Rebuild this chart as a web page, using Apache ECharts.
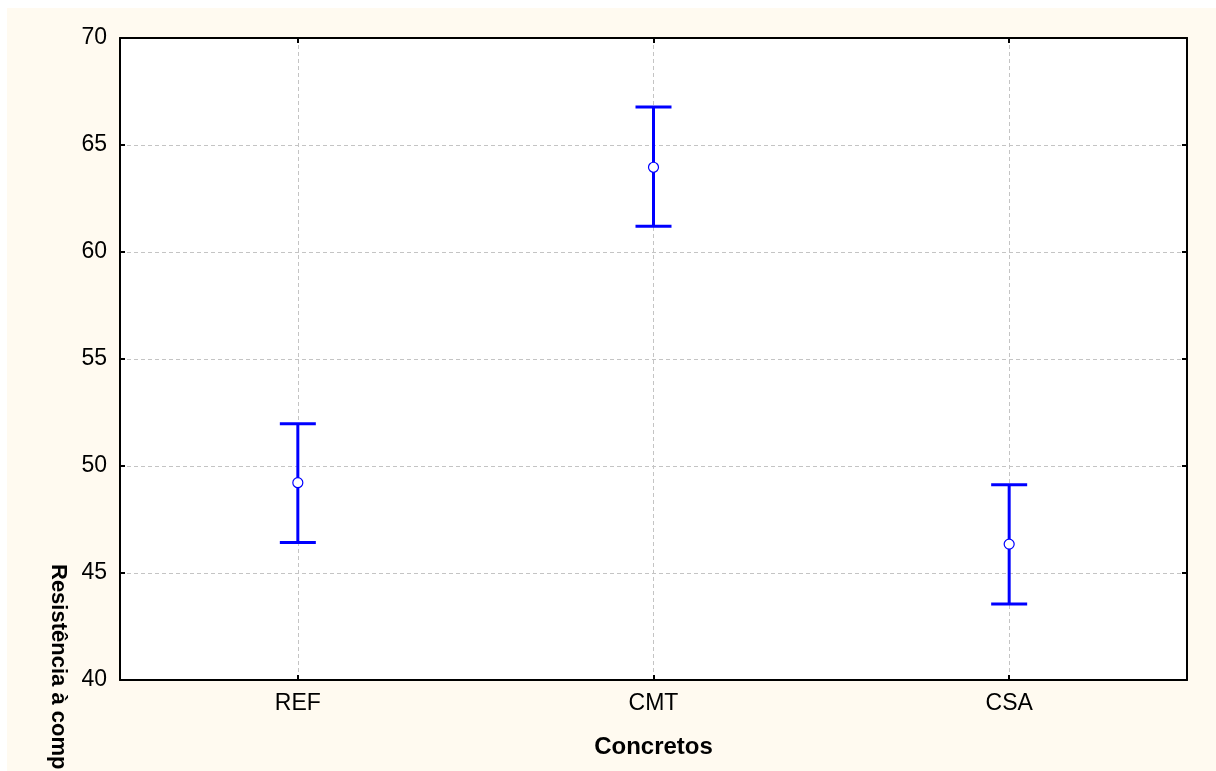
<!DOCTYPE html>
<html>
<head>
<meta charset="utf-8">
<script src="https://cdn.jsdelivr.net/npm/echarts@6/dist/echarts.min.js"></script>
<style>
  html, body { margin: 0; padding: 0; background: #ffffff; }
  #bg { position: absolute; left: 7px; top: 8px; width: 1209px; height: 763px; background: #FFFAF0; }
  #chart { position: absolute; left: 0; top: 0; width: 1216px; height: 771px; }
</style>
</head>
<body>
<div id="bg"></div>
<div id="chart"></div>
<script>
// Data
const categories = ['REF', 'CMT', 'CSA'];
const means = [49.22, 63.96, 46.35];
const lowerBounds = [46.43, 61.20, 43.55];
const upperBounds = [51.97, 66.78, 49.12];
const yTicks = { min: 40, max: 70, interval: 5 };
const xTitle = 'Concretos';
const yTitle = 'Resistência à compressão (MPa)';

const chart = echarts.init(document.getElementById('chart'), null, { renderer: 'canvas' });

const seriesData = categories.map((c, i) => [i, means[i], lowerBounds[i], upperBounds[i]]);

const gridLine = { show: true, lineStyle: { color: '#c4c4c4', width: 1, type: [4, 3] } };
const tickFont = { fontFamily: 'Liberation Sans, Arial, sans-serif', fontSize: 23, color: '#000' };

const option = {
  backgroundColor: 'transparent',
  animation: false,
  grid: {
    left: 120, top: 38, right: 29, bottom: 91,
    show: true, backgroundColor: '#ffffff', borderColor: '#000', borderWidth: 0
  },
  xAxis: [
    {
      type: 'category', data: categories, position: 'bottom', boundaryGap: true,
      axisLine: { show: true, lineStyle: { color: '#000', width: 2 } },
      axisTick: { show: true, inside: true, length: 5, alignWithLabel: true, lineStyle: { color: '#000', width: 2 } },
      axisLabel: Object.assign({ margin: 12 }, tickFont),
      splitLine: Object.assign({ alignWithLabel: true }, gridLine),
      name: xTitle, nameLocation: 'middle', nameGap: 55,
      nameTextStyle: { fontFamily: 'Liberation Sans, Arial, sans-serif', fontSize: 24, fontWeight: 'bold', color: '#000' }
    },
    {
      type: 'category', data: categories, position: 'top', boundaryGap: true,
      axisLine: { show: true, lineStyle: { color: '#000', width: 2 } },
      axisTick: { show: true, inside: true, length: 5, alignWithLabel: true, lineStyle: { color: '#000', width: 2 } },
      axisLabel: { show: false }, splitLine: { show: false }
    }
  ],
  yAxis: [
    {
      type: 'value', min: yTicks.min, max: yTicks.max, interval: yTicks.interval, position: 'left',
      axisLine: { show: true, lineStyle: { color: '#000', width: 2 } },
      axisTick: { show: true, inside: true, length: 5, lineStyle: { color: '#000', width: 2 } },
      axisLabel: Object.assign({ margin: 13 }, tickFont),
      splitLine: gridLine
    },
    {
      type: 'value', min: yTicks.min, max: yTicks.max, interval: yTicks.interval, position: 'right',
      axisLine: { show: true, lineStyle: { color: '#000', width: 2 } },
      axisTick: { show: true, inside: true, length: 5, lineStyle: { color: '#000', width: 2 } },
      axisLabel: { show: false }, splitLine: { show: false }
    }
  ],
  graphic: [
    {
      type: 'text', x: 58, y: 564, rotation: -Math.PI / 2,
      style: {
        text: yTitle, x: 0, y: 0, align: 'left', verticalAlign: 'middle',
        fontFamily: 'Liberation Sans, Arial, sans-serif', fontSize: 22, fontWeight: 'bold', fill: '#000'
      }
    }
  ],
  series: [{
    type: 'custom',
    xAxisIndex: 0, yAxisIndex: 0,
    data: seriesData,
    encode: { x: 0, y: [1, 2, 3] },
    renderItem: function (params, api) {
      const x = api.value(0);
      const pMean = api.coord([x, api.value(1)]);
      const pLow = api.coord([x, api.value(2)]);
      const pHigh = api.coord([x, api.value(3)]);
      const hw = 18;
      const ls = { stroke: '#0000ff', lineWidth: 3 };
      return {
        type: 'group',
        children: [
          { type: 'line', shape: { x1: pLow[0], y1: pLow[1], x2: pHigh[0], y2: pHigh[1] }, style: ls },
          { type: 'line', shape: { x1: pHigh[0] - hw, y1: pHigh[1], x2: pHigh[0] + hw, y2: pHigh[1] }, style: ls },
          { type: 'line', shape: { x1: pLow[0] - hw, y1: pLow[1], x2: pLow[0] + hw, y2: pLow[1] }, style: ls },
          { type: 'circle', shape: { cx: pMean[0], cy: pMean[1], r: 5 }, style: { fill: '#ffffff', stroke: '#0000ff', lineWidth: 1.2 } }
        ]
      };
    }
  }]
};

chart.setOption(option);
</script>
</body>
</html>
